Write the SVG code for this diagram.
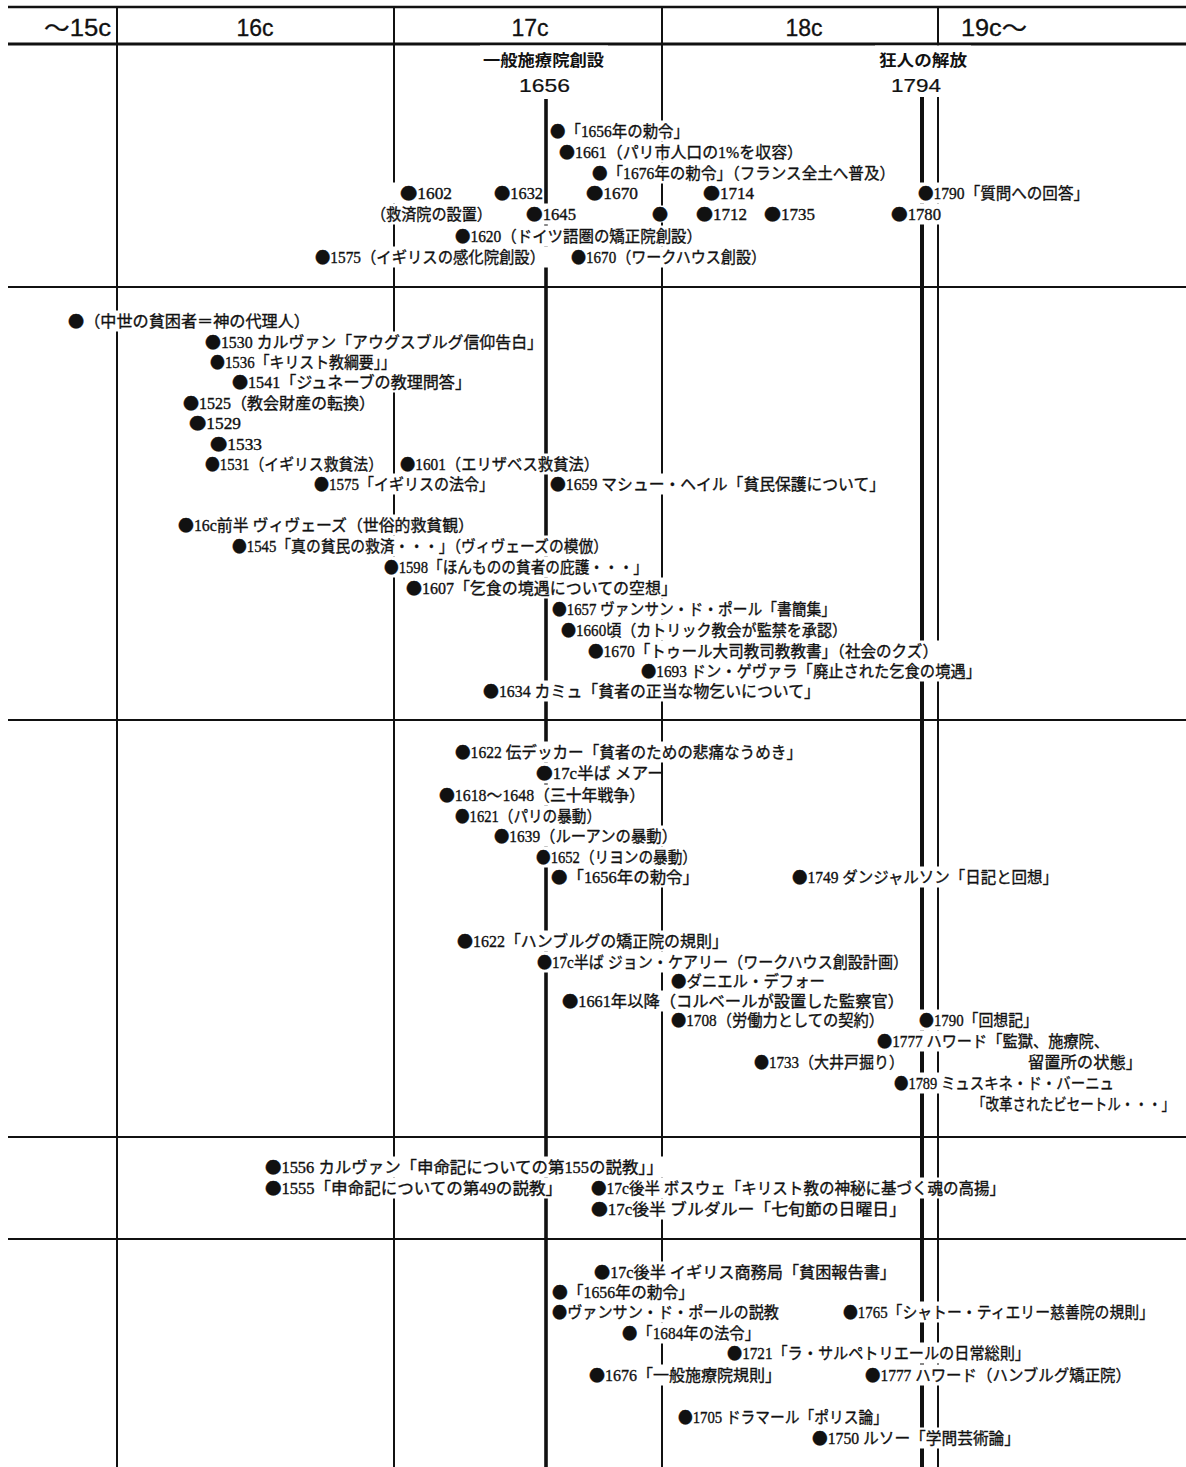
<svg xmlns="http://www.w3.org/2000/svg" width="1186" height="1467" viewBox="0 0 1186 1467">
<style>
.t{font-family:"Liberation Serif","Noto Sans CJK JP",serif;font-size:16px;fill:#111;stroke:#111;stroke-width:0.35}
.b{font-family:"Noto Sans CJK JP",sans-serif}
.bg{fill:#fff}
.hd{font-family:"Liberation Sans","Noto Sans CJK JP",sans-serif;font-size:23px;fill:#111;stroke:#111;stroke-width:0.3}
.ttl{font-family:"Noto Sans CJK JP",sans-serif;font-size:16px;font-weight:bold;fill:#111}
.yr{font-family:"Liberation Sans",sans-serif;font-size:19px;fill:#111;stroke:#111;stroke-width:0.2}
.ln{stroke:#111;stroke-width:2;fill:none}
.thk{stroke:#111;stroke-width:3.6;fill:none}
</style>
<rect width="1186" height="1467" fill="#fff"/>
<g id="connectors">
<line class="ln" x1="8" y1="7" x2="1186" y2="7" style="stroke-width:2.5"/>
<line class="ln" x1="8" y1="44" x2="1186" y2="44" style="stroke-width:2.8"/>
<line class="ln" x1="8" y1="287" x2="1186" y2="287"/>
<line class="ln" x1="8" y1="720" x2="1186" y2="720"/>
<line class="ln" x1="8" y1="1137" x2="1186" y2="1137"/>
<line class="ln" x1="8" y1="1239" x2="1186" y2="1239"/>
<line class="ln" x1="117" y1="7" x2="117" y2="1467"/>
<line class="ln" x1="394" y1="7" x2="394" y2="1467"/>
<line class="ln" x1="662" y1="7" x2="662" y2="1467"/>
<line class="ln" x1="938" y1="7" x2="938" y2="1467"/>
<line class="thk" x1="546" y1="99" x2="546" y2="1467"/>
<line class="thk" x1="922" y1="97" x2="922" y2="1467" style="stroke-width:4"/>
</g>
<g id="headers">
<text class="hd" x="44" y="36" textLength="67" lengthAdjust="spacingAndGlyphs">～15c</text>
<text class="hd" x="255" y="36" text-anchor="middle">16c</text>
<text class="hd" x="530" y="36" text-anchor="middle">17c</text>
<text class="hd" x="804" y="36" text-anchor="middle">18c</text>
<text class="hd" x="961" y="36" textLength="66" lengthAdjust="spacingAndGlyphs">19c～</text>
</g>
<g id="title1656"><rect class="bg" x="480" y="45.5" width="128" height="51.5"/><text class="ttl" x="483" y="66" textLength="121" lengthAdjust="spacingAndGlyphs">一般施療院創設</text><text class="yr" x="519" y="92" textLength="51" lengthAdjust="spacingAndGlyphs">1656</text></g>
<g id="title1794"><rect class="bg" x="875" y="45.5" width="96" height="51.5"/><text class="ttl" x="879" y="66" textLength="88" lengthAdjust="spacingAndGlyphs">狂人の解放</text><text class="yr" x="891" y="92" textLength="50" lengthAdjust="spacingAndGlyphs">1794</text></g>

<g id="n1"><rect class="bg" x="549" y="120.5" width="141" height="21"/><text class="t" x="550" y="136.5" textLength="139" lengthAdjust="spacingAndGlyphs"><tspan class="b">●</tspan>「1656年の勅令」</text></g>
<g id="n2"><rect class="bg" x="558" y="141.5" width="246" height="21"/><text class="t" x="559" y="157.5" textLength="244" lengthAdjust="spacingAndGlyphs"><tspan class="b">●</tspan>1661（パリ市人口の1%を収容）</text></g>
<g id="n3"><rect class="bg" x="591" y="162.5" width="305" height="21"/><text class="t" x="592" y="178.5" textLength="303" lengthAdjust="spacingAndGlyphs"><tspan class="b">●</tspan>「1676年の勅令」（フランス全土へ普及）</text></g>
<g id="n4"><rect class="bg" x="390" y="182.5" width="63" height="21"/><text class="t" x="400" y="198.5" textLength="52" lengthAdjust="spacingAndGlyphs"><tspan class="b">●</tspan>1602</text></g>
<g id="n5"><rect class="bg" x="493" y="182.5" width="51" height="21"/><text class="t" x="494" y="198.5" textLength="49" lengthAdjust="spacingAndGlyphs"><tspan class="b">●</tspan>1632</text></g>
<g id="n6"><rect class="bg" x="585" y="182.5" width="54" height="21"/><text class="t" x="586" y="198.5" textLength="52" lengthAdjust="spacingAndGlyphs"><tspan class="b">●</tspan>1670</text></g>
<g id="n7"><rect class="bg" x="702" y="182.5" width="53" height="21"/><text class="t" x="703" y="198.5" textLength="51" lengthAdjust="spacingAndGlyphs"><tspan class="b">●</tspan>1714</text></g>
<g id="n8"><rect class="bg" x="917" y="182.5" width="173" height="21"/><text class="t" x="918" y="198.5" textLength="171" lengthAdjust="spacingAndGlyphs"><tspan class="b">●</tspan>1790「質問への回答」</text></g>
<g id="n9"><rect class="bg" x="370" y="203.5" width="123" height="21"/><text class="t" x="371" y="219.5" textLength="121" lengthAdjust="spacingAndGlyphs">（救済院の設置）</text></g>
<g id="n10"><rect class="bg" x="525" y="203.5" width="52" height="21"/><text class="t" x="526" y="219.5" textLength="50" lengthAdjust="spacingAndGlyphs"><tspan class="b">●</tspan>1645</text></g>
<g id="n11"><rect class="bg" x="652" y="205.5" width="17" height="17"/><text class="t b" x="652" y="219.5">●</text></g>
<g id="n12"><rect class="bg" x="695" y="203.5" width="53" height="21"/><text class="t" x="696" y="219.5" textLength="51" lengthAdjust="spacingAndGlyphs"><tspan class="b">●</tspan>1712</text></g>
<g id="n13"><rect class="bg" x="763" y="203.5" width="53" height="21"/><text class="t" x="764" y="219.5" textLength="51" lengthAdjust="spacingAndGlyphs"><tspan class="b">●</tspan>1735</text></g>
<g id="n14"><rect class="bg" x="890" y="203.5" width="52" height="21"/><text class="t" x="891" y="219.5" textLength="50" lengthAdjust="spacingAndGlyphs"><tspan class="b">●</tspan>1780</text></g>
<g id="n15"><rect class="bg" x="454" y="225.5" width="249" height="21"/><text class="t" x="455" y="241.5" textLength="247" lengthAdjust="spacingAndGlyphs"><tspan class="b">●</tspan>1620（ドイツ語圏の矯正院創設）</text></g>
<g id="n16"><rect class="bg" x="314" y="246.5" width="236" height="21"/><text class="t" x="315" y="262.5" textLength="230" lengthAdjust="spacingAndGlyphs"><tspan class="b">●</tspan>1575（イギリスの感化院創設）</text></g>
<g id="n17"><rect class="bg" x="570" y="246.5" width="197" height="21"/><text class="t" x="571" y="262.5" textLength="195" lengthAdjust="spacingAndGlyphs"><tspan class="b">●</tspan>1670（ワークハウス創設）</text></g>

<g id="n18"><rect class="bg" x="67" y="310.5" width="244" height="21"/><text class="t" x="68" y="326.5" textLength="242" lengthAdjust="spacingAndGlyphs"><tspan class="b">●</tspan>（中世の貧困者＝神の代理人）</text></g>
<g id="n19"><rect class="bg" x="204" y="331.5" width="340" height="21"/><text class="t" x="205" y="347.5" textLength="338" lengthAdjust="spacingAndGlyphs"><tspan class="b">●</tspan>1530 カルヴァン「アウグスブルグ信仰告白」</text></g>
<g id="n20"><rect class="bg" x="209" y="351.5" width="188" height="21"/><text class="t" x="210" y="367.5" textLength="186" lengthAdjust="spacingAndGlyphs"><tspan class="b">●</tspan>1536「キリスト教綱要」」</text></g>
<g id="n21"><rect class="bg" x="231" y="371.5" width="241" height="21"/><text class="t" x="232" y="387.5" textLength="239" lengthAdjust="spacingAndGlyphs"><tspan class="b">●</tspan>1541「ジュネーブの教理問答」</text></g>
<g id="n22"><rect class="bg" x="182" y="392.5" width="194" height="21"/><text class="t" x="183" y="408.5" textLength="192" lengthAdjust="spacingAndGlyphs"><tspan class="b">●</tspan>1525（教会財産の転換）</text></g>
<g id="n23"><rect class="bg" x="188" y="412.5" width="54" height="21"/><text class="t" x="189" y="428.5" textLength="52" lengthAdjust="spacingAndGlyphs"><tspan class="b">●</tspan>1529</text></g>
<g id="n24"><rect class="bg" x="209" y="433.5" width="54" height="21"/><text class="t" x="210" y="449.5" textLength="52" lengthAdjust="spacingAndGlyphs"><tspan class="b">●</tspan>1533</text></g>
<g id="n25"><rect class="bg" x="204" y="453.5" width="180" height="21"/><text class="t" x="205" y="469.5" textLength="178" lengthAdjust="spacingAndGlyphs"><tspan class="b">●</tspan>1531（イギリス救貧法）</text></g>
<g id="n26"><rect class="bg" x="399" y="453.5" width="201" height="21"/><text class="t" x="400" y="469.5" textLength="199" lengthAdjust="spacingAndGlyphs"><tspan class="b">●</tspan>1601（エリザベス救貧法）</text></g>
<g id="n27"><rect class="bg" x="313" y="473.5" width="182" height="21"/><text class="t" x="314" y="489.5" textLength="180" lengthAdjust="spacingAndGlyphs"><tspan class="b">●</tspan>1575「イギリスの法令」</text></g>
<g id="n28"><rect class="bg" x="549" y="473.5" width="337" height="21"/><text class="t" x="550" y="489.5" textLength="335" lengthAdjust="spacingAndGlyphs"><tspan class="b">●</tspan>1659 マシュー・ヘイル「貧民保護について」</text></g>
<g id="n29"><rect class="bg" x="177" y="514.5" width="298" height="21"/><text class="t" x="178" y="530.5" textLength="296" lengthAdjust="spacingAndGlyphs"><tspan class="b">●</tspan>16c前半 ヴィヴェーズ（世俗的救貧観）</text></g>
<g id="n30"><rect class="bg" x="231" y="535.5" width="378" height="21"/><text class="t" x="232" y="551.5" textLength="376" lengthAdjust="spacingAndGlyphs"><tspan class="b">●</tspan>1545「真の貧民の救済・・・」（ヴィヴェーズの模倣）</text></g>
<g id="n31"><rect class="bg" x="383" y="556.5" width="266" height="21"/><text class="t" x="384" y="572.5" textLength="264" lengthAdjust="spacingAndGlyphs"><tspan class="b">●</tspan>1598「ほんものの貧者の庇護・・・」</text></g>
<g id="n32"><rect class="bg" x="405" y="577.5" width="273" height="21"/><text class="t" x="406" y="593.5" textLength="271" lengthAdjust="spacingAndGlyphs"><tspan class="b">●</tspan>1607「乞食の境遇についての空想」</text></g>
<g id="n33"><rect class="bg" x="551" y="598.5" width="286" height="21"/><text class="t" x="552" y="614.5" textLength="284" lengthAdjust="spacingAndGlyphs"><tspan class="b">●</tspan>1657 ヴァンサン・ド・ポール「書簡集」</text></g>
<g id="n34"><rect class="bg" x="560" y="619.5" width="288" height="21"/><text class="t" x="561" y="635.5" textLength="286" lengthAdjust="spacingAndGlyphs"><tspan class="b">●</tspan>1660頃（カトリック教会が監禁を承認）</text></g>
<g id="n35"><rect class="bg" x="587" y="640.5" width="352" height="21"/><text class="t" x="588" y="656.5" textLength="350" lengthAdjust="spacingAndGlyphs"><tspan class="b">●</tspan>1670「トゥール大司教司教教書」（社会のクズ）</text></g>
<g id="n36"><rect class="bg" x="640" y="660.5" width="342" height="21"/><text class="t" x="641" y="676.5" textLength="340" lengthAdjust="spacingAndGlyphs"><tspan class="b">●</tspan>1693 ドン・ゲヴァラ「廃止された乞食の境遇」</text></g>
<g id="n37"><rect class="bg" x="482" y="680.5" width="339" height="21"/><text class="t" x="483" y="696.5" textLength="337" lengthAdjust="spacingAndGlyphs"><tspan class="b">●</tspan>1634 カミュ「貧者の正当な物乞いについて」</text></g>

<g id="n38"><rect class="bg" x="454" y="741.5" width="349" height="21"/><text class="t" x="455" y="757.5" textLength="347" lengthAdjust="spacingAndGlyphs"><tspan class="b">●</tspan>1622 伝デッカー「貧者のための悲痛なうめき」</text></g>
<g id="n39"><rect class="bg" x="535" y="762.5" width="125" height="21"/><text class="t" x="536" y="778.5" textLength="128" lengthAdjust="spacingAndGlyphs"><tspan class="b">●</tspan>17c半ば メアー</text></g>
<g id="n40"><rect class="bg" x="438" y="784.5" width="208" height="21"/><text class="t" x="439" y="800.5" textLength="206" lengthAdjust="spacingAndGlyphs"><tspan class="b">●</tspan>1618～1648（三十年戦争）</text></g>
<g id="n41"><rect class="bg" x="454" y="805.5" width="148" height="21"/><text class="t" x="455" y="821.5" textLength="146" lengthAdjust="spacingAndGlyphs"><tspan class="b">●</tspan>1621（パリの暴動）</text></g>
<g id="n42"><rect class="bg" x="493" y="825.5" width="185" height="21"/><text class="t" x="494" y="841.5" textLength="183" lengthAdjust="spacingAndGlyphs"><tspan class="b">●</tspan>1639（ルーアンの暴動）</text></g>
<g id="n43"><rect class="bg" x="535" y="846.5" width="163" height="21"/><text class="t" x="536" y="862.5" textLength="161" lengthAdjust="spacingAndGlyphs"><tspan class="b">●</tspan>1652（リヨンの暴動）</text></g>
<g id="n44"><rect class="bg" x="550" y="866.5" width="150" height="21"/><text class="t" x="551" y="882.5" textLength="148" lengthAdjust="spacingAndGlyphs"><tspan class="b">●</tspan>「1656年の勅令」</text></g>
<g id="n45"><rect class="bg" x="791" y="866.5" width="268" height="21"/><text class="t" x="792" y="882.5" textLength="266" lengthAdjust="spacingAndGlyphs"><tspan class="b">●</tspan>1749 ダンジャルソン「日記と回想」</text></g>
<g id="n46"><rect class="bg" x="456" y="930.5" width="273" height="21"/><text class="t" x="457" y="946.5" textLength="271" lengthAdjust="spacingAndGlyphs"><tspan class="b">●</tspan>1622「ハンブルグの矯正院の規則」</text></g>
<g id="n47"><rect class="bg" x="536" y="951.5" width="373" height="21"/><text class="t" x="537" y="967.5" textLength="371" lengthAdjust="spacingAndGlyphs"><tspan class="b">●</tspan>17c半ば ジョン・ケアリー（ワークハウス創設計画）</text></g>
<g id="n48"><rect class="bg" x="670" y="970.5" width="156" height="21"/><text class="t" x="671" y="986.5" textLength="154" lengthAdjust="spacingAndGlyphs"><tspan class="b">●</tspan>ダニエル・デフォー</text></g>
<g id="n49"><rect class="bg" x="561" y="990.5" width="344" height="21"/><text class="t" x="562" y="1006.5" textLength="342" lengthAdjust="spacingAndGlyphs"><tspan class="b">●</tspan>1661年以降（コルベールが設置した監察官）</text></g>
<g id="n50"><rect class="bg" x="670" y="1009.5" width="215" height="21"/><text class="t" x="671" y="1025.5" textLength="213" lengthAdjust="spacingAndGlyphs"><tspan class="b">●</tspan>1708（労働力としての契約）</text></g>
<g id="n51"><rect class="bg" x="918" y="1009.5" width="121" height="21"/><text class="t" x="919" y="1025.5" textLength="119" lengthAdjust="spacingAndGlyphs"><tspan class="b">●</tspan>1790「回想記」</text></g>
<g id="n52"><rect class="bg" x="876" y="1030.5" width="234" height="21"/><text class="t" x="877" y="1046.5" textLength="232" lengthAdjust="spacingAndGlyphs"><tspan class="b">●</tspan>1777 ハワード「監獄、施療院、</text></g>
<g id="n53"><rect class="bg" x="1027" y="1051.5" width="116" height="21"/><text class="t" x="1028" y="1067.5" textLength="114" lengthAdjust="spacingAndGlyphs">留置所の状態」</text></g>
<g id="n54"><rect class="bg" x="753" y="1051.5" width="152" height="21"/><text class="t" x="754" y="1067.5" textLength="150" lengthAdjust="spacingAndGlyphs"><tspan class="b">●</tspan>1733（大井戸掘り）</text></g>
<g id="n55"><rect class="bg" x="893" y="1072.5" width="222" height="21"/><text class="t" x="894" y="1088.5" textLength="220" lengthAdjust="spacingAndGlyphs"><tspan class="b">●</tspan>1789 ミュスキネ・ド・バーニュ</text></g>
<g id="n56"><rect class="bg" x="971" y="1093.5" width="205" height="21"/><text class="t" x="972" y="1109.5" textLength="203" lengthAdjust="spacingAndGlyphs">「改革されたビセートル・・・」</text></g>

<g id="n57"><rect class="bg" x="264" y="1156.5" width="400" height="21"/><text class="t" x="265" y="1172.5" textLength="398" lengthAdjust="spacingAndGlyphs"><tspan class="b">●</tspan>1556 カルヴァン「申命記についての第155の説教」」</text></g>
<g id="n58"><rect class="bg" x="264" y="1177.5" width="299" height="21"/><text class="t" x="265" y="1193.5" textLength="297" lengthAdjust="spacingAndGlyphs"><tspan class="b">●</tspan>1555「申命記についての第49の説教」</text></g>
<g id="n59"><rect class="bg" x="590" y="1177.5" width="416" height="21"/><text class="t" x="591" y="1193.5" textLength="414" lengthAdjust="spacingAndGlyphs"><tspan class="b">●</tspan>17c後半 ボスウェ「キリスト教の神秘に基づく魂の高揚」</text></g>
<g id="n60"><rect class="bg" x="590" y="1198.5" width="317" height="21"/><text class="t" x="591" y="1214.5" textLength="315" lengthAdjust="spacingAndGlyphs"><tspan class="b">●</tspan>17c後半 ブルダルー「七旬節の日曜日」</text></g>

<g id="n61"><rect class="bg" x="593" y="1261.5" width="304" height="21"/><text class="t" x="594" y="1277.5" textLength="302" lengthAdjust="spacingAndGlyphs"><tspan class="b">●</tspan>17c後半 イギリス商務局「貧困報告書」</text></g>
<g id="n62"><rect class="bg" x="551" y="1281.5" width="144" height="21"/><text class="t" x="552" y="1297.5" textLength="142" lengthAdjust="spacingAndGlyphs"><tspan class="b">●</tspan>「1656年の勅令」</text></g>
<g id="n63"><rect class="bg" x="551" y="1301.5" width="229" height="21"/><text class="t" x="552" y="1317.5" textLength="227" lengthAdjust="spacingAndGlyphs"><tspan class="b">●</tspan>ヴァンサン・ド・ポールの説教</text></g>
<g id="n64"><rect class="bg" x="842" y="1301.5" width="313" height="21"/><text class="t" x="843" y="1317.5" textLength="311" lengthAdjust="spacingAndGlyphs"><tspan class="b">●</tspan>1765「シャトー・ティエリー慈善院の規則」</text></g>
<g id="n65"><rect class="bg" x="621" y="1322.5" width="140" height="21"/><text class="t" x="622" y="1338.5" textLength="138" lengthAdjust="spacingAndGlyphs"><tspan class="b">●</tspan>「1684年の法令」</text></g>
<g id="n66"><rect class="bg" x="726" y="1342.5" width="305" height="21"/><text class="t" x="727" y="1358.5" textLength="303" lengthAdjust="spacingAndGlyphs"><tspan class="b">●</tspan>1721「ラ・サルペトリエールの日常総則」</text></g>
<g id="n67"><rect class="bg" x="588" y="1364.5" width="194" height="21"/><text class="t" x="589" y="1380.5" textLength="192" lengthAdjust="spacingAndGlyphs"><tspan class="b">●</tspan>1676「一般施療院規則」</text></g>
<g id="n68"><rect class="bg" x="864" y="1364.5" width="268" height="21"/><text class="t" x="865" y="1380.5" textLength="266" lengthAdjust="spacingAndGlyphs"><tspan class="b">●</tspan>1777 ハワード（ハンブルグ矯正院）</text></g>
<g id="n69"><rect class="bg" x="677" y="1406.5" width="212" height="21"/><text class="t" x="678" y="1422.5" textLength="210" lengthAdjust="spacingAndGlyphs"><tspan class="b">●</tspan>1705 ドラマール「ポリス論」</text></g>
<g id="n70"><rect class="bg" x="811" y="1427.5" width="210" height="21"/><text class="t" x="812" y="1443.5" textLength="208" lengthAdjust="spacingAndGlyphs"><tspan class="b">●</tspan>1750 ルソー「学問芸術論」</text></g>
</svg>
